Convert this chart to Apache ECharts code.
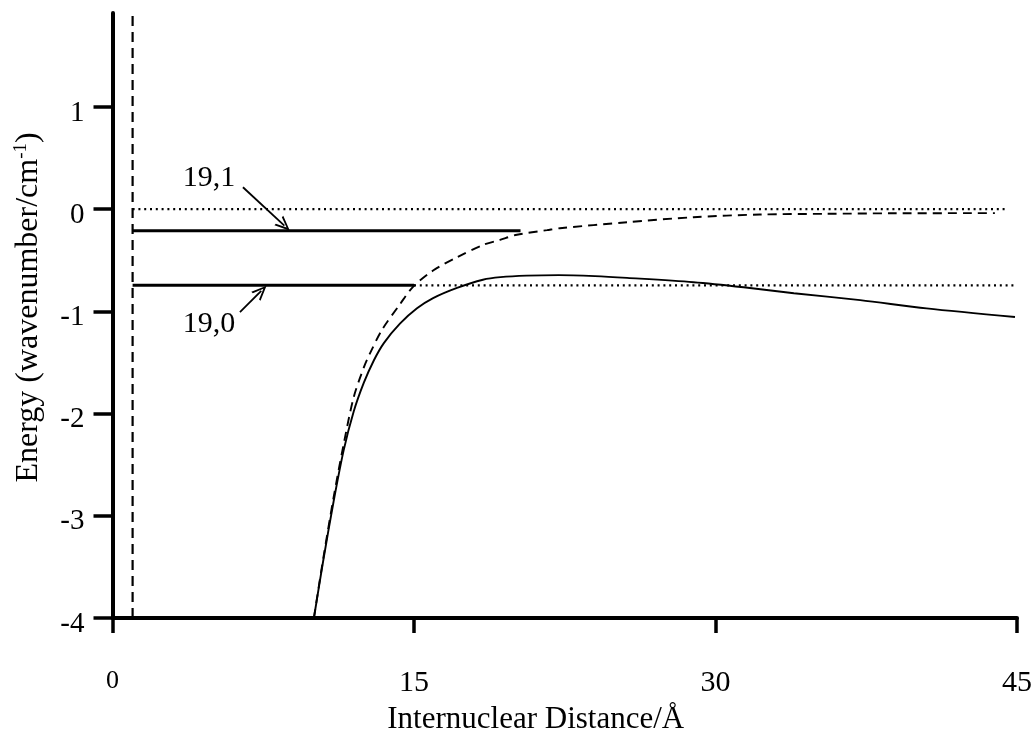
<!DOCTYPE html>
<html>
<head>
<meta charset="utf-8">
<script src="https://cdn.jsdelivr.net/npm/echarts@6/dist/echarts.min.js"></script>
<style>
html,body{margin:0;padding:0;background:#fff;}
#c{width:1036px;height:736px;}
</style>
</head>
<body>
<div id="c"></div>
<script>
// ---- data ----
const xTicks = [0, 15, 30, 45];
const yTicks = [-4, -3, -2, -1, 0, 1];
const yTop = 1.92;

// adiabatic potential curves: [distance (Å), energy (cm^-1)]
const solidCurve = [
  [10.02, -4.0], [10.5, -3.42], [11.0, -2.86], [11.5, -2.36], [12.0, -1.98],
  [12.5, -1.70], [13.0, -1.48], [13.5, -1.31], [14.3, -1.12], [15.15, -0.97],
  [15.95, -0.87], [17.14, -0.77], [18.43, -0.69], [19.3, -0.665], [20.6, -0.65],
  [22.2, -0.645], [24.0, -0.655], [25.6, -0.672], [28.9, -0.714], [31.4, -0.763],
  [33.9, -0.822], [37.2, -0.89], [40.5, -0.97], [44.9, -1.055]
];
const dashedCurve = [
  [10.02, -4.0], [10.5, -3.40], [11.0, -2.82], [11.5, -2.30], [12.0, -1.84],
  [12.5, -1.55], [12.81, -1.41], [13.41, -1.18], [14.3, -0.93], [14.95, -0.76],
  [15.95, -0.60], [17.14, -0.47], [18.43, -0.35], [19.28, -0.30], [20.12, -0.25],
  [21.62, -0.205], [22.26, -0.186], [25.6, -0.127], [28.9, -0.078], [32.2, -0.052],
  [35.5, -0.045], [38.8, -0.04], [43.9, -0.038]
];
// vertical dashed wall
const wallLine = [[1, -4], [1, yTop]];
// dotted asymptotes
const dottedUpper = [[1, 0], [44.4, 0]];
const dottedLower = [[15, -0.745], [44.9, -0.745]];
// bound levels
const level191 = [[1, -0.21], [20.3, -0.21]];
const level190 = [[1, -0.745], [15, -0.745]];

// annotation labels and arrows
const annLabels = [
  { name: '19,1', value: [4.8, 0.30] },
  { name: '19,0', value: [4.8, -1.125] }
];
const annArrows = [
  [[6.49, 0.215], [8.55, -0.16]],
  [[6.34, -1.008], [7.4, -0.80]]
];

// ---- chart ----
const FONT = '"Liberation Serif", "Times New Roman", serif';
const chart = echarts.init(document.getElementById('c'), null, { renderer: 'canvas' });

function lineSeries(data, width, dash) {
  return {
    type: 'line', data: data, showSymbol: false, symbol: 'none', silent: true,
    animation: false,
    lineStyle: { color: '#000', width: width, type: dash }
  };
}

const option = {
  animation: false,
  backgroundColor: '#fff',
  grid: { left: 112.5, right: 19, top: 13, bottom: 118, outerBoundsMode: 'none', containLabel: false },
  xAxis: {
    type: 'value', min: 0, max: 45, interval: 15,
    name: 'Internuclear Distance/Å',
    nameLocation: 'middle', nameGap: 86,
    nameTextStyle: { fontFamily: FONT, fontSize: 31, color: '#000', padding: [0, 58, 0, 0] },
    axisLine: { show: true, onZero: false, lineStyle: { color: '#000', width: 4 } },
    axisTick: { show: true, length: 15, lineStyle: { color: '#000', width: 3.5 } },
    splitLine: { show: false },
    axisLabel: {
      fontFamily: FONT, fontSize: 30, color: '#000', margin: 50,
      formatter: function (v) { return v === 0 ? '{s|0}' : String(v); },
      rich: { s: { fontFamily: FONT, fontSize: 26, color: '#000', padding: [0, 0, 10, 0] } }
    }
  },
  yAxis: {
    type: 'value', min: -4, max: yTop, interval: 1,
    name: '{a|Energy (wavenumber/cm}{b|-1}{a|)}',
    nameLocation: 'middle', nameGap: 67, nameRotate: 90,
    nameTextStyle: {
      fontFamily: FONT, fontSize: 32, color: '#000', padding: [0, 0, 0, 16],
      rich: {
        a: { fontFamily: FONT, fontSize: 32, color: '#000' },
        b: { fontFamily: FONT, fontSize: 19, color: '#000', verticalAlign: 'top', padding: [0, 0, 15, 0] }
      }
    },
    axisLine: { show: true, onZero: false, lineStyle: { color: '#000', width: 4 } },
    axisTick: { show: true, length: 19, customValues: yTicks, lineStyle: { color: '#000', width: 3.5 } },
    splitLine: { show: false },
    axisLabel: {
      customValues: yTicks,
      fontFamily: FONT, fontSize: 29, color: '#000', margin: 28,
      verticalAlign: 'top', lineHeight: 12,
      formatter: function (v) { return String(v); }
    }
  },
  series: [
    lineSeries(wallLine, 2.2, [10, 6]),
    lineSeries(dottedUpper, 2.2, [2, 3.8]),
    lineSeries(dottedLower, 2.2, [2, 3.8]),
    lineSeries(level191, 3, 'solid'),
    lineSeries(level190, 3, 'solid'),
    Object.assign(lineSeries(dashedCurve, 1.9, [9, 6]), { smooth: 0.3 }),
    Object.assign(lineSeries(solidCurve, 1.9, 'solid'), { smooth: 0.3 }),
    {
      type: 'scatter', data: annLabels, symbolSize: 1, silent: true,
      itemStyle: { color: 'rgba(0,0,0,0)', opacity: 1 },
      label: {
        show: true, position: 'inside', formatter: '{b}', opacity: 1,
        fontFamily: FONT, fontSize: 30, color: '#000'
      },
      markLine: {
        silent: true, animation: false,
        symbol: ['none', 'path://M5,0 L10,12 L8.4,12 L5,3.6 L1.6,12 L0,12 Z'],
        symbolSize: [13, 15],
        label: { show: false },
        lineStyle: { color: '#000', width: 1.8, type: 'solid', opacity: 1 },
        data: annArrows.map(function (a) { return [{ coord: a[0] }, { coord: a[1] }]; })
      }
    }
  ]
};
chart.setOption(option);
</script>
</body>
</html>
